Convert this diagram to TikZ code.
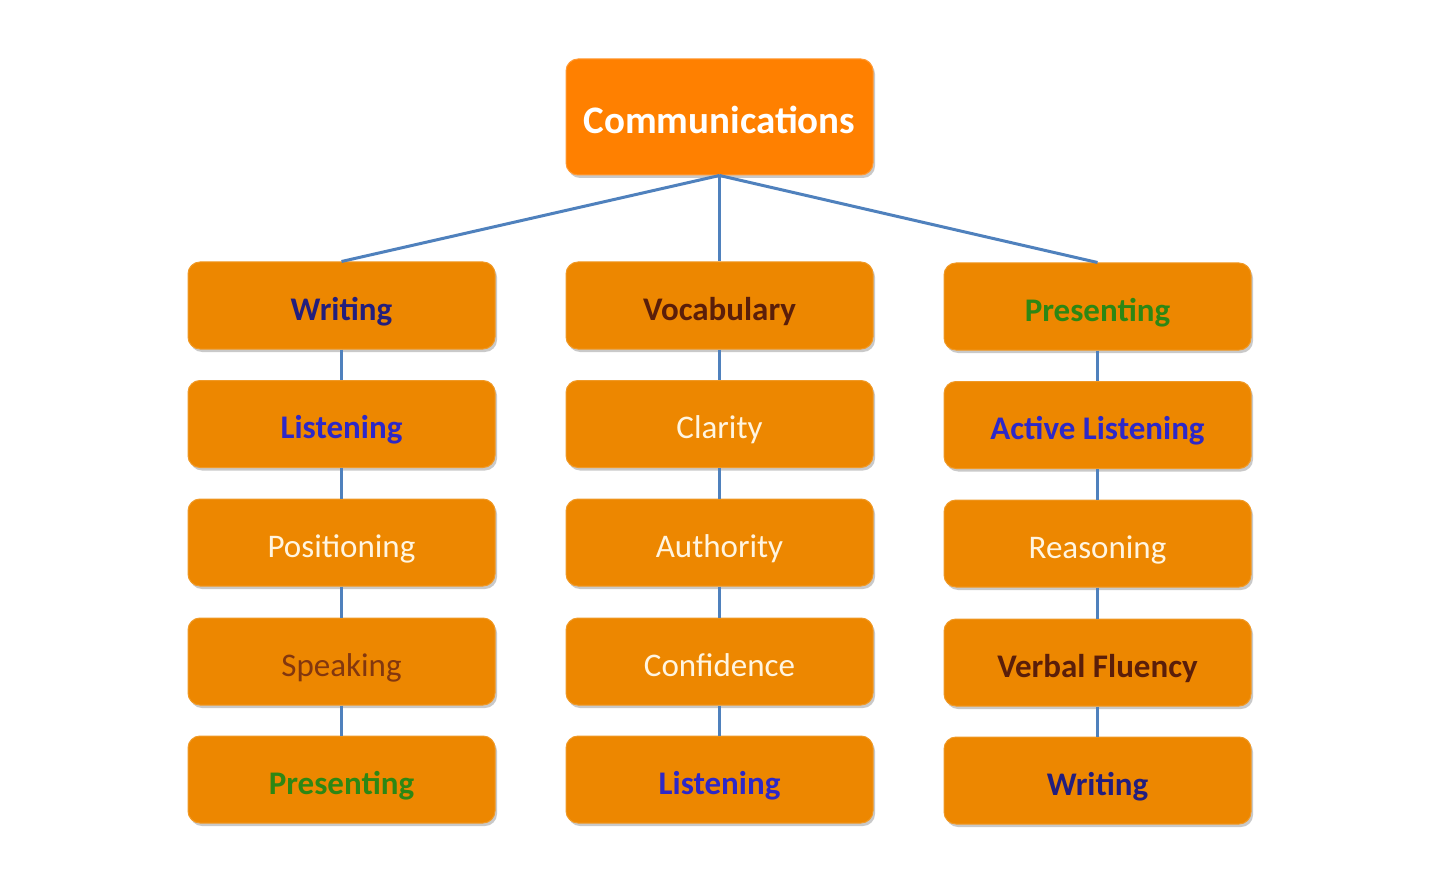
\documentclass[tikz,border=0pt]{standalone}
\usepackage{fontspec}
\setmainfont{Carlito}
\usetikzlibrary{shadows}
\definecolor{topfill}{RGB}{255,128,0}
\definecolor{boxfill}{RGB}{237,135,0}
\definecolor{linkblue}{RGB}{79,129,189}
\definecolor{navy}{RGB}{35,30,125}
\definecolor{bluetxt}{RGB}{45,40,200}
\definecolor{greentxt}{RGB}{45,135,20}
\definecolor{browntxt}{RGB}{130,55,15}
\definecolor{darkbrown}{RGB}{90,30,10}
\definecolor{cream}{RGB}{255,245,225}
\tikzset{
  basebox/.style={rectangle, rounded corners=12pt, minimum width=307pt, inner sep=0pt,
    drop shadow={shadow xshift=2pt, shadow yshift=-3pt, opacity=0.35, fill=black!60}},
  topbox/.style={basebox, fill=topfill, draw=topfill!80!white, line width=1pt, minimum height=116pt,
    text height=34pt, text depth=1pt,
    text=white, font=\fontsize{39}{45}\selectfont\bfseries},
  childbox/.style={basebox, fill=boxfill, draw=boxfill!85!white, line width=1pt, minimum height=87pt,
    text height=30pt, text depth=1pt,
    font=\fontsize{33}{38}\selectfont},
  link/.style={draw=linkblue, line width=3pt},
  bt/.style={font=\fontsize{33}{38}\selectfont\bfseries}
}
\begin{document}
\begin{tikzpicture}[x=1pt,y=-1pt]
\useasboundingbox (0,0) rectangle (1439,874);
\fill[white] (0,0) rectangle (1439,874);
\node[topbox] (top) at (719.5,117) {Communications};
% column 1
\node[childbox, bt, text=navy] (a1) at (341.5,305.5) {Writing};
\node[childbox, bt, text=bluetxt] (a2) at (341.5,424) {Listening};
\node[childbox, text=cream] (a3) at (341.5,542.5) {Positioning};
\node[childbox, text=browntxt] (a4) at (341.5,661.5) {Speaking};
\node[childbox, bt, text=greentxt] (a5) at (341.5,779.5) {Presenting};
% column 2
\node[childbox, bt, text=darkbrown] (b1) at (719.5,305.5) {Vocabulary};
\node[childbox, text=cream] (b2) at (719.5,424) {Clarity};
\node[childbox, text=cream] (b3) at (719.5,542.5) {Authority};
\node[childbox, text=cream] (b4) at (719.5,661.5) {Confidence};
\node[childbox, bt, text=bluetxt] (b5) at (719.5,779.5) {Listening};
% column 3
\node[childbox, bt, text=greentxt] (c1) at (1097.5,306.5) {Presenting};
\node[childbox, bt, text=bluetxt] (c2) at (1097.5,425) {Active Listening};
\node[childbox, text=cream] (c3) at (1097.5,543.5) {Reasoning};
\node[childbox, bt, text=darkbrown] (c4) at (1097.5,662.5) {Verbal Fluency};
\node[childbox, bt, text=navy] (c5) at (1097.5,780.5) {Writing};
% links
\draw[link] (top.south) -- (a1.north);
\draw[link] (top.south) -- (b1.north);
\draw[link] (top.south) -- (c1.north);
\foreach \p/\q in {a1/a2,a2/a3,a3/a4,a4/a5,b1/b2,b2/b3,b3/b4,b4/b5,c1/c2,c2/c3,c3/c4,c4/c5}
  \draw[link] (\p.south) -- (\q.north);
\end{tikzpicture}
\end{document}
